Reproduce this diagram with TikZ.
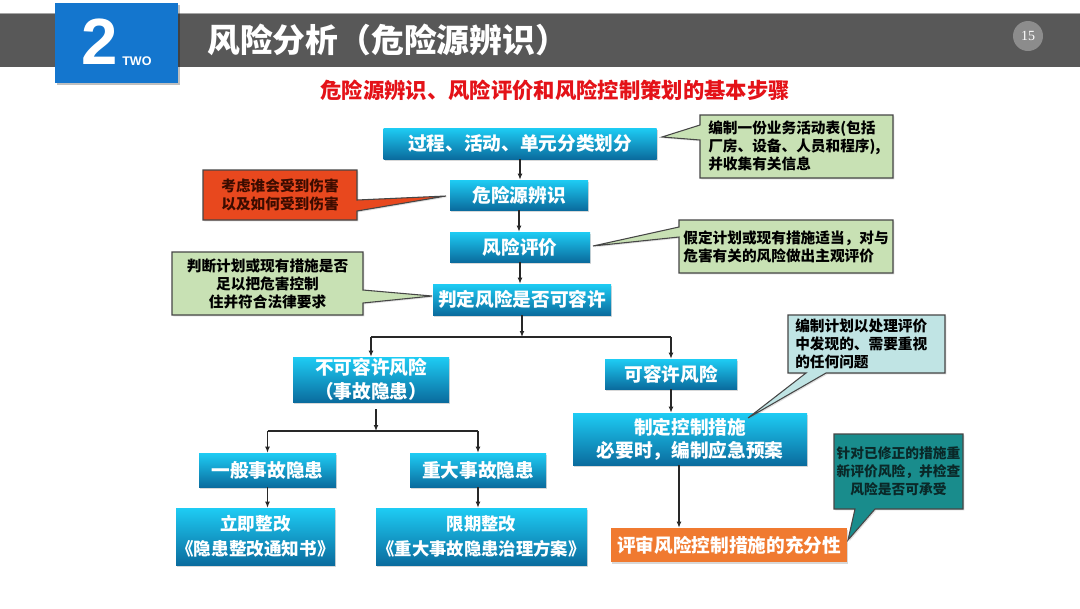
\documentclass[tikz,border=0pt]{standalone}
\usepackage{fontspec}
\setmainfont{Noto Sans CJK SC}
\newfontfamily\arialb{Liberation Sans}
\newfontfamily\serifnum{Liberation Serif}
\usetikzlibrary{arrows.meta,shadows,calc}
\definecolor{barc}{RGB}{88,88,88}
\definecolor{barline}{RGB}{165,165,165}
\definecolor{bluesq}{RGB}{20,118,206}
\definecolor{circc}{RGB}{140,140,140}
\definecolor{subred}{RGB}{228,18,24}
\definecolor{cyantop}{RGB}{30,204,244}
\definecolor{cyanbot}{RGB}{10,108,158}
\definecolor{greenc}{RGB}{200,225,180}
\definecolor{calldraw}{RGB}{70,70,70}
\definecolor{redc}{RGB}{232,72,30}
\definecolor{darkred}{RGB}{60,12,0}
\definecolor{ltealc}{RGB}{192,228,228}
\definecolor{tealc}{RGB}{25,140,140}
\definecolor{tealtext}{RGB}{10,40,40}
\definecolor{orangec}{RGB}{240,122,48}
\definecolor{linec}{RGB}{40,40,40}
\begin{document}
\begin{tikzpicture}[x=0.75pt,y=-0.75pt,
  flowbox/.style={top color=cyantop, bottom color=cyanbot, draw=none, text=white,
    font=\bfseries\fontsize{14}{17.5}\selectfont, align=center, inner sep=0pt,
    drop shadow={opacity=0.3, shadow xshift=1pt, shadow yshift=-1.2pt}},
  orangebox/.style={fill=orangec, draw=none, text=white,
    font=\bfseries\fontsize{14}{17.5}\selectfont, align=center, inner sep=0pt,
    drop shadow={opacity=0.3, shadow xshift=1pt, shadow yshift=-1.2pt}},
  arr/.style={draw=linec, line width=0.8pt, -{Latex[length=4.5pt,width=3.6pt]}},
  plainline/.style={draw=linec, line width=0.8pt},
  callshape/.style={draw=calldraw, line width=0.8pt, line join=miter,
    drop shadow={opacity=0.25, shadow xshift=1pt, shadow yshift=-1pt}},
  calltext/.style={font=\bfseries\fontsize{11}{13.5}\selectfont, inner sep=0pt, text=black}
]
\useasboundingbox (0,0) rectangle (1080,608);
\fill[white] (0,0) rectangle (1080,608);

% ---------- header ----------
\fill[barc] (0,13) rectangle (1080,67);
\draw[barline, line width=0.6pt] (0,13) -- (1080,13);
\fill[black, opacity=0.25] (57,5) rectangle (180,85);
\fill[bluesq] (55,3) rectangle (178,83);
\node[font=\arialb\bfseries\fontsize{49}{49}\selectfont, text=white, anchor=base west, inner sep=0pt] (num) at (81,64) {2};
\node[font=\arialb\bfseries\fontsize{9.4}{10}\selectfont, text=white, anchor=base west, inner sep=0pt] (two) at (122,65) {TWO};
\node[font=\bfseries\fontsize{24.6}{25}\selectfont, text=white, anchor=west, inner sep=0pt] (title) at (207,40) {风险分析（危险源辨识）};
\node[circle, fill=circc, minimum size=22.5pt, inner sep=0pt, text=white,
      font=\serifnum\fontsize{10.5}{10.5}\selectfont] (page) at (1028,36) {15};
\node[font=\bfseries\fontsize{16}{16}\selectfont, text=subred, inner sep=0pt] (sub) at (555,90)
  {危险源辨识、风险评价和风险控制策划的基本步骤};

% ---------- flow boxes ----------
\node[flowbox, minimum width=204.75pt, minimum height=23.25pt] (A) at (520,143.5) {过程、活动、单元分类划分};
\node[flowbox, minimum width=103.5pt, minimum height=22.5pt] (B) at (519,195) {危险源辨识};
\node[flowbox, minimum width=105pt, minimum height=22.5pt] (C) at (520,247) {风险评价};
\node[flowbox, minimum width=133.5pt, minimum height=23.25pt] (D) at (522,299.5) {判定风险是否可容许};
\node[flowbox, minimum width=117pt, minimum height=33.75pt] (E) at (371,379.5) {不可容许风险\\（事故隐患）};
\node[flowbox, minimum width=99pt, minimum height=22.5pt] (F) at (671,374) {可容许风险};
\node[flowbox, minimum width=175.5pt, minimum height=39pt] (I) at (690,439) {制定控制措施\\必要时，编制应急预案};
\node[flowbox, minimum width=102.75pt, minimum height=25.5pt] (G) at (267.5,470) {一般事故隐患};
\node[flowbox, minimum width=102pt, minimum height=25.5pt] (H) at (478,470) {重大事故隐患};
\node[flowbox, minimum width=119.25pt, minimum height=42.75pt, font=\bfseries\fontsize{13.2}{19}\selectfont] (J) at (255.5,536.5) {立即整改\\《隐患整改通知书》};
\node[flowbox, minimum width=158.25pt, minimum height=42.75pt, font=\bfseries\fontsize{13}{19}\selectfont] (K) at (481.5,536.5) {限期整改\\《重大事故隐患治理方案》};
\node[orangebox, minimum width=177pt, minimum height=25.5pt] (L) at (729,545) {评审风险控制措施的充分性};

% ---------- connectors ----------
\draw[arr] (A.south) -- (A.south |- B.north);
\draw[arr] (B.south) -- (B.south |- C.north);
\draw[arr] (C.south) -- (C.south |- D.north);
\coordinate (j1) at (522,337);
\draw[arr] (D.south) -- (j1);
\draw[plainline] (E.north |- j1) -- (F.north |- j1);
\draw[arr] (E.north |- j1) -- (E.north);
\draw[arr] (F.north |- j1) -- (F.north);
\coordinate (e1) at ($(E.south)+(5,7)$);
\coordinate (j2) at (376,431);
\draw[arr] (e1) -- (j2);
\draw[plainline] (G.north |- j2) -- (H.north |- j2);
\draw[arr] (G.north |- j2) -- (G.north);
\draw[arr] (H.north |- j2) -- (H.north);
\draw[arr] (G.south) -- (G.south |- J.north);
\draw[arr] (H.south) -- (H.south |- K.north);
\draw[arr] (F.south) -- (F.south |- I.north);
\coordinate (iL) at ($(I.south)+(-11,0)$);
\draw[arr] (iL) -- (iL |- L.north);

% ---------- callouts ----------
\coordinate (tA) at (662,137);
\filldraw[callshape, fill=greenc] (700,115) -- (893,115) -- (893,178) -- (700,178) -- (700,140) -- (tA) -- (700,125) -- cycle;
\node[calltext, align=left, anchor=west] (c1) at (708,146) {编制一份业务活动表(包括\\厂房、设备、人员和程序),\\并收集有关信息};

\coordinate (tB) at (446,196);
\filldraw[callshape, fill=redc] (203,170) -- (357,170) -- (357,200) -- (tB) -- (357,211) -- (357,220) -- (203,220) -- cycle;
\node[calltext, align=center, text=darkred] (c2) at (280,195) {考虑谁会受到伤害\\以及如何受到伤害};

\coordinate (tC) at (593,246);
\filldraw[callshape, fill=greenc] (679,220) -- (893,220) -- (893,273) -- (679,273) -- (679,237) -- (tC) -- (679,227) -- cycle;
\node[calltext, align=left] (c3) at (786,246.5) {假定计划或现有措施适当，对与\\危害有关的风险做出主观评价};

\coordinate (tD) at (432,296);
\filldraw[callshape, fill=greenc] (172,252) -- (363,252) -- (363,290) -- (tD) -- (363,303) -- (363,315) -- (172,315) -- cycle;
\node[calltext, align=center] (c4) at (267.5,283.5) {判断计划或现有措施是否\\足以把危害控制\\住并符合法律要求};

\coordinate (tI) at (748,418);
\filldraw[callshape, fill=ltealc] (788,315) -- (945,315) -- (945,373) -- (826,373) -- (tI) -- (806,373) -- (788,373) -- cycle;
\node[calltext, align=left, anchor=west] (c5) at (795,344) {编制计划以处理评价\\中发现的、需要重视\\的任何问题};

\coordinate (tL) at (848,540);
\filldraw[callshape, fill=tealc] (834,434) -- (963,434) -- (963,509) -- (875,509) -- (tL) -- (855,509) -- (834,509) -- cycle;
\node[calltext, align=center, text=tealtext, font=\bfseries\fontsize{10.3}{13.5}\selectfont] (c6) at (898.5,471.5) {针对已修正的措施重\\新评价风险，并检查\\风险是否可承受};
\end{tikzpicture}
\end{document}
